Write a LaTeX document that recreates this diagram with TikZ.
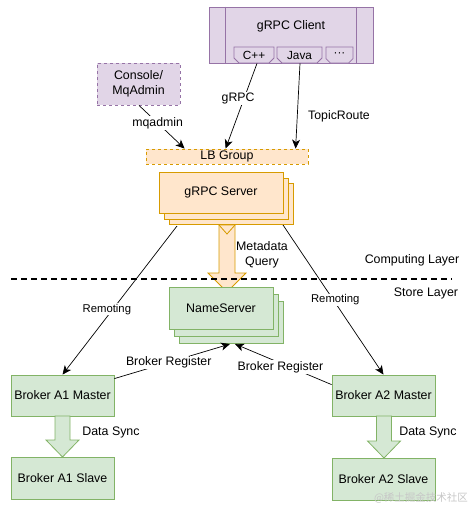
\documentclass[tikz,border=0pt]{standalone}
\usepackage{fontspec}
\setmainfont{Liberation Sans}
\newfontfamily\cjkfont{Noto Sans CJK SC}
\usetikzlibrary{arrows.meta,shapes.misc,calc}
\definecolor{purfill}{HTML}{E1D5E7}
\definecolor{purline}{HTML}{9673A6}
\definecolor{orfill}{HTML}{FFE6CC}
\definecolor{orline}{HTML}{D79B00}
\definecolor{grfill}{HTML}{D5E8D4}
\definecolor{grline}{HTML}{82B366}
\begin{document}
\begin{tikzpicture}[x=1pt,y=-1pt,
  lbl/.style={font=\fontsize{12.4}{15}\selectfont, inner sep=0pt, align=center},
  box/.style={draw, rectangle, inner sep=0pt, font=\fontsize{12.4}{14.5}\selectfont, line width=0.8pt, align=center},
  pbox/.style={box, fill=purfill, draw=purline},
  obox/.style={box, fill=orfill, draw=orline},
  gbox/.style={box, fill=grfill, draw=grline},
  ostack/.style={fill=orfill, draw=orline, line width=0.8pt},
  gstack/.style={fill=grfill, draw=grline, line width=0.8pt},
  subbox/.style={draw=purline, fill=purfill, chamfered rectangle,
    chamfered rectangle corners={south west,south east},
    chamfered rectangle xsep=2.5pt, chamfered rectangle ysep=2.5pt,
    inner sep=0pt, font=\fontsize{11.8}{13}\selectfont, line width=0.8pt},
  conn/.style={-{Stealth[length=9pt,width=8pt,inset=2.5pt]}, line width=0.7pt},
  elbl/.style={font=\fontsize{12.3}{14}\selectfont, fill=white, inner sep=1pt},
  elbls/.style={font=\fontsize{11.3}{13}\selectfont, fill=white, inner sep=1pt},
  blockarrow/.style={line width=0.8pt, line join=miter},
]
\useasboundingbox (0,0) rectangle (469,509);

% gRPC Client
\node[pbox, minimum width=164pt, minimum height=56pt] (client) at (291,35) {};
\draw[purline, line width=0.8pt] ($(client.north west)+(17,0)$) -- ($(client.south west)+(17,0)$)
  ($(client.north east)+(-17,0)$) -- ($(client.south east)+(-17,0)$);
\node[lbl] (clientlbl) at (291,26) {gRPC Client};
\node[subbox, minimum width=40pt, minimum height=16pt] (cpp) at (254,55) {C++};
\node[subbox, minimum width=45pt, minimum height=16pt] (java) at (299.5,55) {Java};
\node[subbox, minimum width=27pt, minimum height=16pt] (dots) at (339.5,55) {\textperiodcentered\textperiodcentered\textperiodcentered};

% Console
\node[pbox, dashed, minimum width=83pt, minimum height=42pt] (console) at (138.5,84) {Console/\\MqAdmin};

% LB Group
\node[obox, dashed, minimum width=162pt, minimum height=15pt] (lb) at (227,156.5) {LB Group};

% gRPC Server stack
\draw[ostack] (169,183) rectangle (293,224);
\draw[ostack] (164,178) rectangle (288,219);
\node[obox, minimum width=124pt, minimum height=41pt] (server) at (221,192.5) {gRPC Server};

% Metadata Query block arrow
\filldraw[blockarrow, fill=orfill, draw=orline] (219,225) -- (219,273) -- (208,273) -- (227,292)
  -- (246,273) -- (235,273) -- (235,225) -- cycle;
\draw[orline, line width=0.8pt] (219,225) -- (227,234) -- (235,225);
\node[lbl] (mdq) at (262,254.5) {Metadata\\Query};

% layer separator
\draw[line width=1.8pt, dash pattern=on 6pt off 4pt] (11,279) -- (452,279);
\node[lbl] (comp) at (412,260) {Computing Layer};
\node[lbl] (store) at (426,293) {Store Layer};

% NameServer stack
\draw[gstack] (179,301) rectangle (283,343);
\draw[gstack] (174,294) rectangle (278,336);
\node[gbox, minimum width=104pt, minimum height=42pt] (ns) at (221,308) {NameServer};

% Brokers
\node[gbox, minimum width=103pt, minimum height=41pt] (a1m) at (62.5,395.5) {Broker A1 Master};
\node[gbox, minimum width=103pt, minimum height=42pt] (a1s) at (62.5,478) {Broker A1 Slave};
\node[gbox, minimum width=103pt, minimum height=41pt] (a2m) at (383.5,395.5) {Broker A2 Master};
\node[gbox, minimum width=103pt, minimum height=42pt] (a2s) at (383.5,479) {Broker A2 Slave};

% Data Sync block arrows
\filldraw[blockarrow, fill=grfill, draw=grline] (55,416) -- (55,440) -- (46,440) -- (62.5,457)
  -- (79,440) -- (70,440) -- (70,416) -- cycle;
\filldraw[blockarrow, fill=grfill, draw=grline] (376.5,416) -- (376.5,441) -- (367.5,441) -- (384,458)
  -- (400.5,441) -- (391.5,441) -- (391.5,416) -- cycle;
\node[lbl] (ds1) at (111,432) {Data Sync};
\node[lbl] (ds2) at (428,432) {Data Sync};

% connectors
\coordinate (cppout) at ($(cpp.south)+(3,0)$);
\coordinate (lbin1) at ($(lb.north west)+(80,0)$);
\coordinate (javaout) at ($(java.south)+(0.5,0)$);
\coordinate (lbin2) at ($(lb.north west)+(150,0)$);
\coordinate (consout) at ($(console.south)+(0.5,0)$);
\coordinate (lbin0) at ($(lb.north west)+(39,0)$);
\draw[conn] (cppout) -- node[elbl, pos=0.41, xshift=-6pt] {gRPC} (lbin1);
\draw[conn] (javaout) -- (lbin2);
\node[elbl] (topic) at (339,116) {TopicRoute};
\draw[conn] (consout) -- node[elbl, pos=0.41] {mqadmin} (lbin0);

\coordinate (srvl) at (177,226);
\coordinate (srvr) at (283,225);
\draw[conn] (srvl) -- node[elbls, pos=0.56, xshift=-6pt] {Remoting} (a1m.north);
\draw[conn] (srvr) -- node[elbls, pos=0.5, xshift=2pt] {Remoting} (a2m.north);

\coordinate (nsin1) at (230,344);
\coordinate (nsin2) at (235,344);
\draw[conn] ($(a1m.north east)+(0,4)$) -- node[elbl, pos=0.47] {Broker Register} (nsin1);
\draw[conn] ($(a2m.north west)+(0,10)$) -- node[elbl, pos=0.53, yshift=-4pt] {Broker Register} (nsin2);

% watermark
\node[font=\cjkfont\fontsize{10.5}{12}\selectfont, text=black!22, inner sep=0pt] (wm) at (421,498) {@稀土掘金技术社区};
\end{tikzpicture}
\end{document}
